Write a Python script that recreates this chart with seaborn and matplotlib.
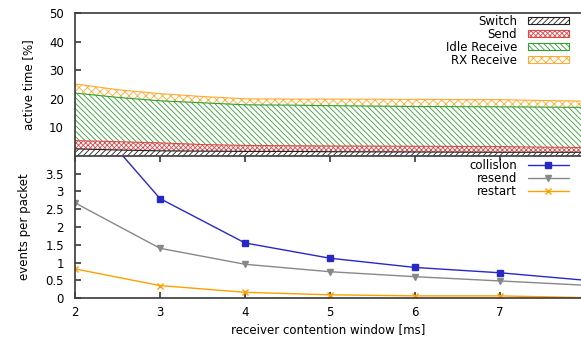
import numpy as np
import pandas as pd
import matplotlib
matplotlib.use("Agg")
import matplotlib.pyplot as plt
from matplotlib.patches import Patch
from matplotlib.lines import Line2D
import seaborn as sns

sns.set_theme(style="ticks")
plt.rcParams['font.family'] = ['DejaVu Sans']
plt.rcParams['hatch.linewidth'] = 0.6
plt.rcParams['text.color'] = 'black'
plt.rcParams['axes.labelcolor'] = 'black'
plt.rcParams['xtick.labelcolor'] = 'black'
plt.rcParams['ytick.labelcolor'] = 'black'

# top panel: share of active time per state [%]
win_fine = [2, 2.5, 3, 3.5, 4, 4.5, 5, 6, 7, 7.5, 7.95]
switch = [2.5, 2.1, 1.8, 1.7, 1.6, 1.6, 1.5, 1.4, 1.3, 1.3, 1.3]
send = [2.9, 2.9, 2.8, 2.3, 2.1, 2.0, 2.0, 2.0, 2.0, 1.8, 1.7]
idle_rx = [16.6, 15.5, 14.7, 14.6, 14.2, 14.2, 14.1, 13.9, 13.9, 14.0, 14.0]
rx_rx = [3.2, 2.7, 2.5, 2.2, 2.1, 2.1, 2.3, 2.5, 2.5, 2.3, 2.2]

# bottom panel: events per packet
win = [2, 3, 4, 5, 6, 7, 8]
collision = [5.55, 2.80, 1.55, 1.12, 0.86, 0.71, 0.50]
resend = [2.68, 1.40, 0.95, 0.74, 0.60, 0.48, 0.36]
restart = [0.82, 0.35, 0.16, 0.09, 0.06, 0.06, 0.01]

W, H = 581, 339
fig = plt.figure(figsize=(W / 100, H / 100), dpi=100)
ax1 = fig.add_axes([75 / W, (H - 156) / H, (W - 75) / W, (156 - 13) / H])
ax2 = fig.add_axes([75 / W, (H - 298) / H, (W - 75) / W, (298 - 156) / H])

fs = 8.5
spine_col = "#404040"

layers = [("Switch", switch, "#202020", "//////"),
          ("Send", send, "#e04848", "xxxxxxx"),
          ("Idle Receive", idle_rx, "#30a030", "\\\\\\\\\\\\"),
          ("RX Receive", rx_rx, "#ffaa30", "xxxx")]
base = np.zeros(len(win_fine))
handles = []
for name, vals, col, hat in layers:
    top = base + np.array(vals)
    ax1.fill_between(win_fine, base, top, facecolor="white", edgecolor=col,
                     hatch=hat, linewidth=0)
    ax1.plot(win_fine, top, color=col, lw=0.8)
    handles.append(Patch(facecolor="white", edgecolor=col, hatch=hat, lw=0.8, label=name))
    base = top

ax1.set_xlim(2, 7.95)
ax1.set_ylim(0, 50)
ax1.set_yticks([10, 20, 30, 40, 50])
ax1.set_xticks([2, 3, 4, 5, 6, 7])
ax1.tick_params(axis="x", labelbottom=False, direction="in", length=4, color=spine_col)
ax1.tick_params(axis="y", direction="in", length=4, labelsize=fs, pad=8, color=spine_col)
ax1.set_ylabel("active time [%]", fontsize=fs, labelpad=10)
ax1.spines["right"].set_visible(False)
ax1.spines["bottom"].set_visible(False)
for s in ["left", "top"]:
    ax1.spines[s].set_color(spine_col)
ax1.legend(handles=handles, loc="upper right", bbox_to_anchor=(569 / W, 1 - 15 / H),
           bbox_transform=fig.transFigure, frameon=False, markerfirst=False,
           fontsize=fs, handlelength=3.5, handleheight=0.5, handletextpad=0.9,
           labelspacing=0.0, borderaxespad=0, borderpad=0)

colors = {"collision": "#2828c8", "resend": "#888888", "restart": "#ffa000"}
markers = {"collision": "s", "resend": "v", "restart": "x"}
series = {"collision": collision, "resend": resend, "restart": restart}
for k, vals in series.items():
    sns.lineplot(x=win, y=vals, color=colors[k], marker=markers[k], ax=ax2,
                 lw=1.0, markersize=5, markeredgewidth=1.0,
                 markeredgecolor=colors[k], clip_on=True)
ax2.set_xlim(2, 7.95)
ax2.set_ylim(0, 4)
ax2.set_yticks([0, 0.5, 1, 1.5, 2, 2.5, 3, 3.5])
ax2.set_yticklabels(["0", "0.5", "1", "1.5", "2", "2.5", "3", "3.5"])
ax2.set_xticks([2, 3, 4, 5, 6, 7])
ax2.tick_params(axis="y", direction="in", length=4, labelsize=fs, pad=8, color=spine_col)
ax2.tick_params(axis="x", direction="in", length=4, labelsize=fs, pad=6, top=True,
                color=spine_col)
ax2.set_ylabel("events per packet", fontsize=fs, labelpad=10)
ax2.set_xlabel("receiver contention window [ms]", fontsize=fs, labelpad=3)
ax2.spines["right"].set_visible(False)
for s in ["left", "top", "bottom"]:
    ax2.spines[s].set_color(spine_col)
lh = [Line2D([], [], color=colors[k], marker=markers[k], markersize=5, lw=1.0,
             markeredgewidth=1.0, label=k) for k in ["collision", "resend", "restart"]]
ax2.legend(handles=lh, loc="upper right", bbox_to_anchor=(569 / W, 1 - 159 / H),
           bbox_transform=fig.transFigure, frameon=False, markerfirst=False,
           fontsize=fs, handlelength=3.5, handleheight=0.5, handletextpad=0.9,
           labelspacing=0.0, borderaxespad=0, borderpad=0)

fig.savefig("out.png", dpi=100)
